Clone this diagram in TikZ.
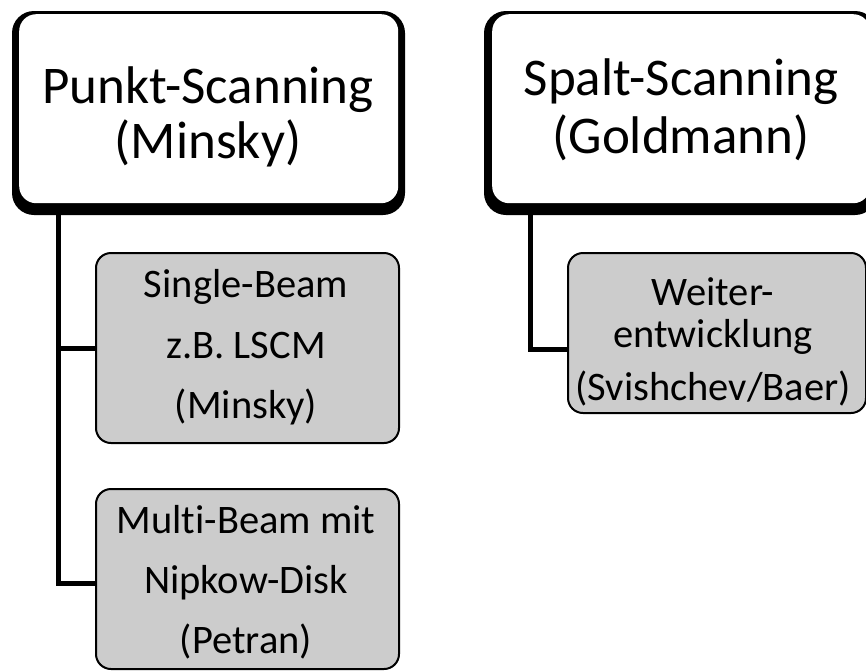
\documentclass[tikz,border=0pt]{standalone}
\usepackage{fontspec}
\setmainfont{Carlito}[Ligatures=NoCommon]
\definecolor{boxgray}{HTML}{CCCCCC}
\tikzset{
  titlebox/.style={draw=none, fill=white, rounded corners=17pt, inner sep=0pt, anchor=north west},
  titleframe/.style={fill=black, rounded corners=22pt},
  subbox/.style={draw=black, line width=2pt, fill=boxgray, rounded corners=15pt, inner sep=0pt, anchor=north west},
  titletext/.style={anchor=base, inner sep=0pt, font=\fontsize{53}{60}\selectfont},
  subtext/.style={anchor=base, inner sep=0pt, font=\fontsize{40.5}{46}\selectfont},
  conn/.style={draw=black, line width=5pt}
}
\begin{document}
\begin{tikzpicture}[x=1pt, y=-1pt]
\useasboundingbox (0,0) rectangle (866,670);

% heavy frames behind the two main boxes
\fill[titleframe] (12,11) rectangle (405,215);
\fill[titleframe] (484,11) rectangle (877,215);

% main boxes
\node[titlebox, minimum width=379pt, minimum height=189pt] (t1) at (19,14) {};
\node[titlebox, minimum width=378pt, minimum height=189pt] (t2) at (492,14) {};

% sub boxes
\node[subbox, minimum width=303pt, minimum height=190pt] (c1) at (95,252) {};
\node[subbox, minimum width=303pt, minimum height=180pt] (c2) at (95,488) {};
\node[subbox, minimum width=298pt, minimum height=160pt] (c3) at (567,252) {};

% connectors
\coordinate (j1) at (58,212);
\coordinate (j2) at (530,212);
\draw[conn] (j1) |- ([yshift=-4pt]c2.west);
\draw[conn] (j1 |- c1.west) -- (c1.west);
\draw[conn] (j2) |- ([yshift=-16pt]c3.west);

% titles
\node[titletext] (t1a) at (208,103) {Punkt-Scanning};
\node[titletext] (t1b) at (208,158) {(Minsky)};
\node[titletext] (t2a) at (681,95) {Spalt-Scanning};
\node[titletext] (t2b) at (681,153) {(Goldmann)};

% sub box texts
\node[subtext] (c1a) at (246,297) {Single-Beam};
\node[subtext] (c1b) at (246,358) {z.B. LSCM};
\node[subtext] (c1c) at (246,418) {(Minsky)};
\node[subtext] (c2a) at (246,533) {Multi-Beam mit};
\node[subtext] (c2b) at (246,593) {Nipkow-Disk};
\node[subtext] (c2c) at (246,653) {(Petran)};
\node[subtext] (c3a) at (713,305) {Weiter-};
\node[subtext] (c3b) at (713,347) {entwicklung};
\node[subtext] (c3c) at (713,400) {(Svishchev/Baer)};
\end{tikzpicture}
\end{document}
